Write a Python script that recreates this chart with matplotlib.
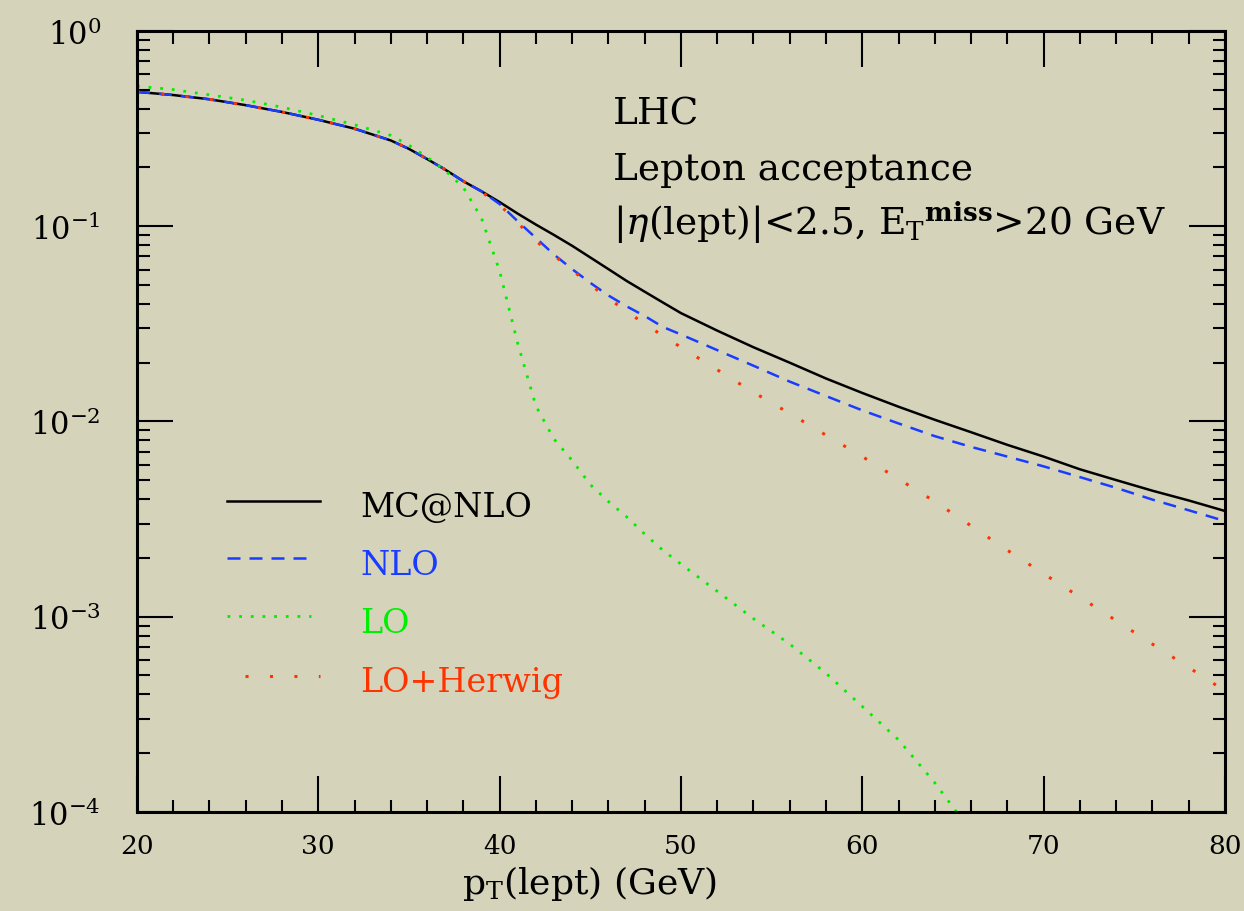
import numpy as np
import matplotlib.pyplot as plt
from matplotlib.ticker import MultipleLocator, LogLocator, NullFormatter

plt.rcParams['font.family'] = ['DejaVu Serif']
plt.rcParams['mathtext.fontset'] = 'dejavuserif'

# lepton pT (GeV)
pt = [20, 22, 24, 26, 28, 30, 32, 34, 35, 36, 37, 38, 39, 40, 41, 42, 43, 44, 45,
      46, 47, 48, 49, 50, 52, 54, 56, 58, 60, 62, 64, 66, 68, 70, 72, 74, 76, 78, 80]

mcatnlo = [0.488, 0.470, 0.447, 0.417, 0.385, 0.351, 0.316, 0.275, 0.249, 0.221,
           0.195, 0.170, 0.151, 0.133, 0.116, 0.102, 0.0902, 0.0794, 0.0692,
           0.0603, 0.0525, 0.0462, 0.0407, 0.0359, 0.0292, 0.0240, 0.0200,
           0.0166, 0.0140, 0.0119, 0.0102, 0.00881, 0.00759, 0.00661, 0.00569,
           0.00501, 0.00442, 0.00394, 0.00348]

nlo = [0.488, 0.470, 0.447, 0.417, 0.385, 0.351, 0.316, 0.275, 0.249, 0.221,
       0.195, 0.170, 0.151, 0.130, 0.106, 0.0871, 0.0716, 0.0603, 0.0513,
       0.0442, 0.0389, 0.0347, 0.0305, 0.0279, 0.0232, 0.0193, 0.0160,
       0.0135, 0.0114, 0.00977, 0.00841, 0.00741, 0.00661, 0.00589, 0.00519,
       0.00457, 0.00398, 0.00351, 0.00309]

lo_herwig = [0.488, 0.470, 0.447, 0.417, 0.385, 0.351, 0.316, 0.275, 0.249, 0.221,
             0.195, 0.170, 0.150, 0.129, 0.104, 0.0841, 0.0708, 0.0596, 0.0501,
             0.0427, 0.0367, 0.0316, 0.0275, 0.0240, 0.0184, 0.0141, 0.0110,
             0.00851, 0.00661, 0.00507, 0.00389, 0.00292, 0.00219, 0.00166,
             0.00126, 0.000955, 0.000724, 0.000550, 0.000417]

pt_lo = [20, 22, 24, 26, 28, 30, 32, 34, 35, 36, 37, 38, 39, 40, 41, 42, 43, 44, 45,
         46, 47, 48, 49, 50, 52, 54, 56, 58, 60, 62, 64, 66]
lo = [0.522, 0.501, 0.471, 0.442, 0.407, 0.369, 0.331, 0.292, 0.260, 0.226,
      0.193, 0.158, 0.110, 0.0589, 0.0251, 0.0120, 0.00813, 0.00631, 0.00475,
      0.00389, 0.00325, 0.00265, 0.00219, 0.00186, 0.00135, 0.000977,
      0.000724, 0.000513, 0.000347, 0.000234, 0.000141, 0.0000794]

bg = '#d5d4bb'
blue = '#1a3cff'
green = '#00ee00'
red = '#ff3300'

fig = plt.figure(figsize=(12.44, 9.12), dpi=100, facecolor=bg)
ax = fig.add_axes([0.1101, 0.1086, 0.8746, 0.8563])
ax.set_facecolor(bg)

ax.plot(pt, mcatnlo, color='black', lw=1.8, solid_capstyle='butt')
ax.plot(pt, nlo, color=blue, lw=1.8, dashes=(5.2, 3.6))
ax.plot(pt_lo, lo, color=green, lw=2.0, dashes=(1.0, 3.2))
ax.plot(pt, lo_herwig, color=red, lw=2.2, dashes=(1.0, 7.0))

ax.set_yscale('log')
ax.set_xlim(20, 80)
ax.set_ylim(1e-4, 1)

ax.xaxis.set_major_locator(MultipleLocator(10))
ax.xaxis.set_minor_locator(MultipleLocator(2))
ax.yaxis.set_major_locator(LogLocator(base=10, numticks=10))
ax.yaxis.set_minor_locator(LogLocator(base=10, subs=np.arange(2, 10), numticks=20))
ax.yaxis.set_minor_formatter(NullFormatter())

ax.tick_params(which='both', direction='in', top=True, right=True, width=1.5, color='black')
ax.tick_params(which='major', length=26)
ax.tick_params(which='minor', length=9)
ax.tick_params(axis='x', which='major', pad=15, labelsize=19)
ax.tick_params(axis='y', which='major', pad=26, labelsize=22)
for s in ax.spines.values():
    s.set_linewidth(2.2)

ax.set_xlabel(r'p$_{\mathrm{T}}$(lept) (GeV)', fontsize=26, labelpad=0)
ax.xaxis.set_label_coords(0.416, -0.066)

# annotations
ax.text(0.4375, 0.881, 'LHC', transform=ax.transAxes, fontsize=27)
ax.text(0.4375, 0.8105, 'Lepton acceptance', transform=ax.transAxes, fontsize=27)
ax.text(0.4375, 0.740,
        r'$|\eta$(lept)$|$<2.5, E$_{\mathrm{T}}$$^{\mathbf{miss}}$>20 GeV',
        transform=ax.transAxes, fontsize=27)

# legend drawn by hand
ax.plot([0.0827, 0.168], [0.398, 0.398], transform=ax.transAxes, color='black', lw=1.8)
ax.plot([0.0827, 0.161], [0.325, 0.325], transform=ax.transAxes, color=blue, lw=1.8,
        dashes=(5.2, 3.6))
ax.plot([0.0827, 0.160], [0.251, 0.251], transform=ax.transAxes, color=green, lw=2.0,
        dashes=(1.0, 3.2))
ax.plot([0.099, 0.168], [0.174, 0.174], transform=ax.transAxes, color=red, lw=2.2,
        dashes=(1.0, 7.0))

ax.text(0.205, 0.379, 'MC@NLO', transform=ax.transAxes, fontsize=24, color='black')
ax.text(0.205, 0.305, 'NLO', transform=ax.transAxes, fontsize=24, color=blue)
ax.text(0.205, 0.2305, 'LO', transform=ax.transAxes, fontsize=24, color=green)
ax.text(0.205, 0.155, 'LO+Herwig', transform=ax.transAxes, fontsize=24, color=red)

fig.savefig('out.png', dpi=100, facecolor=bg)
